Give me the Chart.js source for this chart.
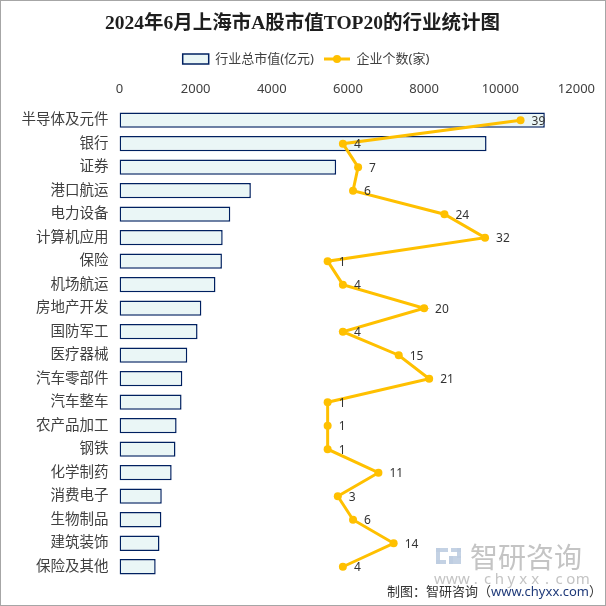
<!DOCTYPE html>
<html>
<head>
<meta charset="utf-8">
<script src="https://cdn.jsdelivr.net/npm/chart.js@4/dist/chart.umd.min.js"></script>
<style>
  html, body { margin: 0; padding: 0; background: #fff; }
  #wrap { width: 606px; height: 606px; }
</style>
</head>
<body>
<div id="wrap"><canvas id="c" width="606" height="606"></canvas></div>
<script>
var categories = ['半导体及元件', '银行', '证券', '港口航运', '电力设备', '计算机应用', '保险', '机场航运', '房地产开发', '国防军工',
  '医疗器械', '汽车零部件', '汽车整车', '农产品加工', '钢铁', '化学制药', '消费电子', '生物制品', '建筑装饰', '保险及其他'];
var marketValue = [11170, 9640, 5690, 3450, 2910, 2710, 2690, 2520, 2150, 2050,
  1780, 1650, 1630, 1500, 1470, 1370, 1110, 1100, 1050, 950];
var companyCount = [39, 4, 7, 6, 24, 32, 1, 4, 20, 4, 15, 21, 1, 1, 1, 11, 3, 6, 14, 4];
var xTicks = [0, 2000, 4000, 6000, 8000, 10000, 12000];

var FONT = "'Noto Sans', 'Noto Sans CJK SC', sans-serif";
var barFill = '#EAF6F6';
var barEdge = '#002060';
var lineColor = '#FFC000';

// point labels, watermark, source note, frame
var extras = {
  id: 'extras',
  afterLayout: function (chart) {
    // center title and legend like the original
    chart.titleBlock.left = 0;
    chart.titleBlock.right = 605;
    chart.legend.left = 16;
    chart.legend.right = 596;
  },
  beforeDatasetsDraw: function (chart) {
    var ctx = chart.ctx;
    ctx.save();
    // watermark logo
    ctx.fillStyle = 'rgba(190,205,225,0.9)';
    ctx.fillRect(436, 548, 12, 4);
    ctx.fillRect(436, 548, 4, 16);
    ctx.fillRect(436, 560, 10, 4);
    ctx.fillRect(451, 548, 10, 4);
    ctx.fillRect(457, 548, 4, 10);
    ctx.fillRect(449, 556, 12, 4);
    ctx.fillRect(449, 556, 4, 8);
    ctx.fillRect(449, 560, 12, 4);
    ctx.fillStyle = '#C4C4C4';
    ctx.font = "28px 'Noto Sans CJK SC', sans-serif";
    ctx.textAlign = 'left';
    ctx.textBaseline = 'middle';
    ctx.fillText('智研咨询', 470, 557);
    ctx.font = "15px 'Noto Sans', sans-serif";
    ctx.textAlign = 'center';
    var wm = 'www.chyxx.com';
    for (var i = 0; i < wm.length; i++) {
      ctx.fillText(wm[i], 440 + i * 11.9, 580);
    }
    ctx.restore();
  },
  afterDatasetsDraw: function (chart) {
    var ctx = chart.ctx;
    var meta = chart.getDatasetMeta(1);
    ctx.save();
    ctx.font = '12px ' + FONT;
    ctx.fillStyle = '#333333';
    ctx.textAlign = 'left';
    ctx.textBaseline = 'middle';
    meta.data.forEach(function (pt, i) {
      ctx.fillText(String(companyCount[i]), pt.x + 11, pt.y + 1);
    });
    ctx.restore();
  },
  afterDraw: function (chart) {
    var ctx = chart.ctx;
    ctx.save();
    // dot on the line legend entry
    var boxes = chart.legend.legendHitBoxes;
    if (boxes && boxes[1]) {
      var b = boxes[1];
      ctx.fillStyle = lineColor;
      ctx.beginPath();
      ctx.arc(b.left + 13, b.top + b.height / 2, 4, 0, Math.PI * 2);
      ctx.fill();
    }
    // source note
    ctx.font = '13px ' + FONT;
    ctx.textBaseline = 'middle';
    ctx.textAlign = 'right';
    var tail = 'www.chyxx.com）';
    ctx.fillStyle = '#1F3A7A';
    ctx.fillText('www.chyxx.com', 602 - ctx.measureText('）').width, 592);
    ctx.fillStyle = '#333333';
    ctx.fillText('）', 602, 592);
    ctx.fillText('制图：智研咨询（', 602 - ctx.measureText(tail).width, 592);
    // frame
    ctx.strokeStyle = '#A6A6A6';
    ctx.lineWidth = 1;
    ctx.strokeRect(0.5, 0.5, 605, 605);
    ctx.restore();
  }
};

var chart = new Chart(document.getElementById('c'), {
  data: {
    labels: categories,
    datasets: [{
      type: 'bar',
      label: '行业总市值(亿元)',
      data: marketValue,
      backgroundColor: barFill,
      borderColor: barEdge,
      borderWidth: 1.5,
      borderSkipped: false,
      barPercentage: 0.65,
      categoryPercentage: 1,
      xAxisID: 'x',
      order: 1
    }, {
      type: 'line',
      label: '企业个数(家)',
      data: companyCount,
      borderColor: lineColor,
      backgroundColor: lineColor,
      borderWidth: 3,
      pointRadius: 4,
      pointBackgroundColor: lineColor,
      pointBorderWidth: 0,
      tension: 0,
      xAxisID: 'x2',
      order: 0
    }]
  },
  options: {
    indexAxis: 'y',
    responsive: false,
    animation: false,
    events: [],
    layout: { autoPadding: false, padding: { left: 0, right: 26, top: 0, bottom: 27.5 } },
    plugins: {
      title: {
        display: true,
        text: '2024年6月上海市A股市值TOP20的行业统计图',
        color: '#1E1E1E',
        font: { family: "'Liberation Serif', 'Noto Sans CJK SC', serif", size: 19.5, weight: 'bold' },
        padding: { top: 12, bottom: 7 }
      },
      legend: {
        display: true,
        position: 'top',
        labels: {
          color: '#404040',
          font: { family: FONT, size: 13 },
          usePointStyle: true,
          pointStyleWidth: 26,
          boxHeight: 10,
          padding: 10,
          generateLabels: function (ch) {
            return [{
              text: '行业总市值(亿元)', fillStyle: barFill, strokeStyle: barEdge, lineWidth: 1.5,
              pointStyle: 'rect', datasetIndex: 0, hidden: false, fontColor: '#404040'
            }, {
              text: '企业个数(家)', fillStyle: lineColor, strokeStyle: lineColor, lineWidth: 3,
              pointStyle: 'line', datasetIndex: 1, hidden: false, fontColor: '#404040'
            }];
          }
        }
      },
      tooltip: { enabled: false }
    },
    scales: {
      x: {
        position: 'top',
        min: 0,
        max: 12000,
        afterBuildTicks: function (s) { s.ticks = xTicks.map(function (v) { return { value: v }; }); },
        grid: { display: false, drawTicks: false },
        border: { display: false },
        ticks: {
          color: '#404040', font: { family: FONT, size: 13 }, padding: 11, maxRotation: 0,
          callback: function (v) { return String(v); }
        },
        afterFit: function (s) { s.height = 33; }
      },
      x2: {
        position: 'top',
        display: false,
        min: -40,
        max: 50
      },
      y: {
        grid: { display: false, drawTicks: false },
        border: { display: false },
        ticks: { color: '#404040', font: { family: FONT, size: 14.5 }, padding: 11, autoSkip: false },
        afterFit: function (s) { s.width = 119.5; }
      }
    }
  },
  plugins: [extras]
});
</script>
</body>
</html>
